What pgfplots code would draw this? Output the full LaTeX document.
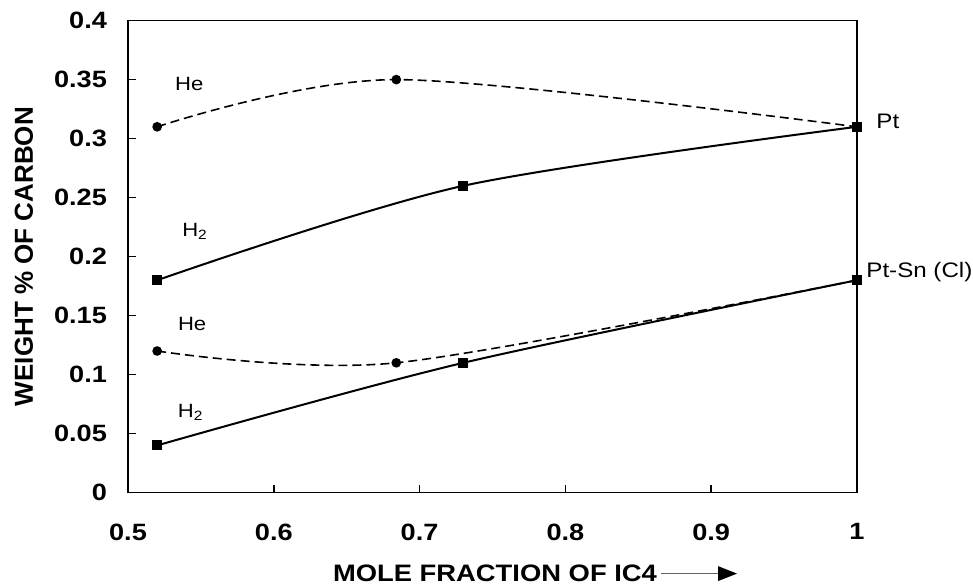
\documentclass[border=0pt]{standalone}
\usepackage{fontspec}
\setmainfont{Liberation Sans}[FakeStretch=1.15]
\newfontfamily\ylabfont{Liberation Sans}
\usepackage{pgfplots}
\pgfplotsset{compat=1.18}

\begin{document}
\begin{tikzpicture}
\begin{axis}[
    at={(0,0)}, anchor=south west,
    width=364.5pt, height=236pt, scale only axis,
    xmin=0.5, xmax=1, ymin=0, ymax=0.4,
    xtick={0.5,0.6,0.7,0.8,0.9,1},
    xticklabels={0.5,0.6,0.7,0.8,0.9,1},
    ytick={0,0.05,0.1,0.15,0.2,0.25,0.3,0.35,0.4},
    yticklabels={0,0.05,0.1,0.15,0.2,0.25,0.3,0.35,0.4},
    tick align=inside, xtick pos=left, ytick pos=left,
    major tick length=4pt,
    axis line style={line width=0.75pt},
    tick style={line width=0.75pt, black},
    ticklabel style={font=\bfseries\fontsize{11.8}{13}\selectfont},
    xticklabel shift=12pt, yticklabel shift=7pt,
    clip=false,
  ]
  % He, Pt
  \addplot[black, smooth, dash pattern=on 4.5pt off 2.5pt, line width=0.8pt,
           mark=*, mark size=2pt, mark options={solid}]
    coordinates {(0.52,0.31) (0.684,0.35) (1,0.31)};
  % He, Pt-Sn (Cl)
  \addplot[black, smooth, dash pattern=on 4.5pt off 2.5pt, line width=0.8pt,
           mark=*, mark size=2pt, mark options={solid}]
    coordinates {(0.52,0.12) (0.684,0.11) (1,0.18)};
  % H2, Pt
  \addplot[black, smooth, line width=1pt, mark=square*, mark size=2pt]
    coordinates {(0.52,0.18) (0.73,0.26) (1,0.31)};
  % H2, Pt-Sn (Cl)
  \addplot[black, smooth, line width=1pt, mark=square*, mark size=2pt]
    coordinates {(0.52,0.04) (0.73,0.11) (1,0.18)};

  \begin{scope}[every node/.style={inner sep=0pt, font=\fontsize{9.6}{10}\selectfont}]
    \node at (axis cs:0.542,0.346) {He};
    \node at (axis cs:0.546,0.221) {H\textsubscript{2}};
    \node at (axis cs:0.544,0.143) {He};
    \node at (axis cs:0.543,0.068) {H\textsubscript{2}};
  \end{scope}
  \node[anchor=west, inner sep=0pt, xshift=9.5pt, font=\fontsize{10.5}{11}\selectfont]
    at (axis cs:1,0.315) {Pt};
  \node[anchor=west, inner sep=0pt, xshift=4.5pt, font=\fontsize{10.5}{11}\selectfont]
    at (axis cs:1,0.187) {Pt-Sn (Cl)};
\end{axis}

% axis titles
\node[inner sep=0pt, font=\bfseries\fontsize{11.9}{13}\selectfont]
  at (183.5pt,-40.5pt) {MOLE FRACTION OF IC4};
\draw[black!60, line width=0.4pt] (266.5pt,-40.5pt) -- (295pt,-40.5pt);
\fill (295pt,-36.75pt) -- (304.5pt,-40.5pt) -- (295pt,-44.25pt) -- cycle;
\node[inner sep=0pt, rotate=90, font=\ylabfont\bfseries\fontsize{13}{14}\selectfont]
  at (-52pt,118pt) {WEIGHT \% OF CARBON};

\pgfresetboundingbox
\path[use as bounding box] (-64pt,-46.25pt) rectangle (422.5pt,246.3pt);
\end{tikzpicture}
\end{document}
